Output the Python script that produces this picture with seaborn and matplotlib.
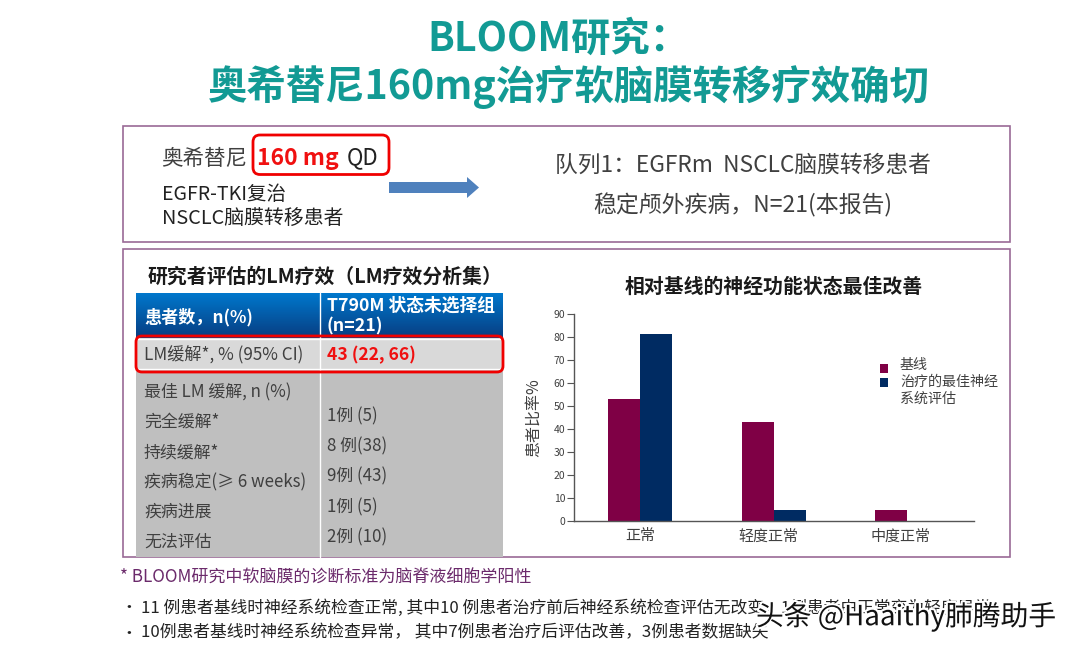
import numpy as np
import pandas as pd
import seaborn as sns
import matplotlib.pyplot as plt
import matplotlib.patheffects as pe
from matplotlib.patches import Rectangle, FancyBboxPatch, Polygon

# dados do grafico
categorias = ['正常', '轻度正常', '中度正常']
baseline = [53, 43, 5]
melhor = [81.5, 5, 0]
series = ['基线', '治疗的最佳神经\n系统评估']
yticks = list(range(0, 100, 10))

# dados da tabela
linhas_tabela = ['最佳 LM 缓解, n (%)', '完全缓解*', '持续缓解*', '疾病稳定(≥ 6 weeks)', '疾病进展', '无法评估']
valores_tabela = ['1例 (5)', '8 例(38)', '9例 (43)', '1例 (5)', '2例 (10)']

sns.set_theme(style='white')
plt.rcParams['font.family'] = ['Noto Sans CJK SC', 'DejaVu Sans']
plt.rcParams['axes.unicode_minus'] = False

W, H = 1080, 650
fig = plt.figure(figsize=(W / 100, H / 100), dpi=100, facecolor='white')

# camada de fundo em pixels
bg = fig.add_axes([0, 0, 1, 1])
bg.set_xlim(0, W)
bg.set_ylim(H, 0)
bg.axis('off')

teal = '#129a94'
roxo = '#9a6a96'
cinza = '#404040'

bg.text(558, 39, 'BLOOM研究：', fontsize=28.4, fontweight='bold', color=teal, ha='center', va='center')
bg.text(569, 87, '奥希替尼160mg治疗软脑膜转移疗效确切', fontsize=28.4, fontweight='bold', color=teal, ha='center', va='center')

# caixas
bg.add_patch(Rectangle((122.5, 126), 887, 116, fill=False, ec=roxo, lw=1.2))
bg.add_patch(Rectangle((122.5, 248.5), 887, 308.5, fill=False, ec=roxo, lw=1.2))

# caixa de cima
bg.text(161, 159, '奥希替尼', fontsize=15.5, color=cinza, va='center')
bg.text(257, 158, '160 mg', fontsize=16.5, fontweight='bold', color='#f01010', va='center')
bg.text(347, 158, 'QD', fontsize=16, color='#222222', va='center')
bg.add_patch(FancyBboxPatch((253, 135), 136, 39.5, boxstyle='round,pad=0,rounding_size=7', fill=False, ec='#f00000', lw=2))
bg.text(162, 195, 'EGFR-TKI复治', fontsize=14, color='#222222', va='center')
bg.text(162, 219, 'NSCLC脑膜转移患者', fontsize=14.3, color='#222222', va='center')
bg.add_patch(Polygon([(389, 182), (467, 182), (467, 177), (479, 187.5), (467, 198), (467, 193), (389, 193)],
                     closed=True, fc='#4f81bd', ec='none'))
bg.text(743, 165, '队列1：EGFRm  NSCLC脑膜转移患者', fontsize=16.4, color=cinza, ha='center', va='center')
bg.text(743, 205, '稳定颅外疾病，N=21(本报告)', fontsize=16.5, color=cinza, ha='center', va='center')

# tabela
bg.text(325, 276, '研究者评估的LM疗效（LM疗效分析集）', fontsize=14.3, fontweight='bold', color='#1a1a1a', ha='center', va='center')
grad = np.linspace(0, 1, 64).reshape(-1, 1)
cores = np.array([0, 120, 205]) * (1 - grad[..., None]) + np.array([8, 62, 130]) * grad[..., None]
bg.imshow(cores.astype(np.uint8), extent=(136, 503, 338, 293), aspect='auto', zorder=1)
bg.set_xlim(0, W)
bg.set_ylim(H, 0)
bg.add_patch(Rectangle((136, 338), 367, 32, fc='#d9d9d9', ec='none', zorder=1))
bg.add_patch(Rectangle((136, 370), 367, 187, fc='#bfbfbf', ec='none', zorder=1))
bg.plot([319.5, 319.5], [293, 557], color='white', lw=1, zorder=2)
bg.plot([136, 503], [338.5, 338.5], color='white', lw=1, zorder=2)
bg.plot([136, 503], [368.5, 368.5], color='white', lw=1, zorder=2)
bg.text(144, 317, '患者数，n(%)', fontsize=12.3, fontweight='bold', color='white', va='center', zorder=3)
bg.text(327, 306, 'T790M 状态未选择组', fontsize=12.8, fontweight='bold', color='white', va='center', zorder=3)
bg.text(327, 326, '(n=21)', fontsize=12.8, fontweight='bold', color='white', va='center', zorder=3)
bg.text(144, 355, 'LM缓解*, % (95% CI)', fontsize=12.3, color=cinza, va='center', zorder=3)
bg.text(327, 355, '43 (22, 66)', fontsize=12.6, fontweight='bold', color='#f01010', va='center', zorder=3)
bg.add_patch(FancyBboxPatch((136, 336), 367, 36, boxstyle='round,pad=0,rounding_size=6', fill=False, ec='#f00000', lw=2, zorder=4))
for i, txt in enumerate(linhas_tabela):
    bg.text(144, 392 + i * 30, txt, fontsize=12.2, color=cinza, va='center', zorder=3)
for i, txt in enumerate(valores_tabela):
    bg.text(327, 416 + i * 30.3, txt, fontsize=12.2, color=cinza, va='center', zorder=3)

# grafico de barras
bg.text(774, 286, '相对基线的神经功能状态最佳改善', fontsize=14.3, fontweight='bold', color='#1a1a1a', ha='center', va='center')

df = pd.DataFrame({
    'categoria': categorias * 2,
    'valor': baseline + melhor,
    'serie': [series[0]] * 3 + [series[1]] * 3,
})
ax = fig.add_axes([573.5 / W, 1 - 521 / H, 400.5 / W, 206.7 / H])
ax.patch.set_alpha(0)
sns.barplot(data=df, x='categoria', y='valor', hue='serie', palette=['#7f0045', '#002b62'],
            width=0.48, gap=0, saturation=1, linewidth=0, ax=ax, legend=False)
ax.set_xlim(-0.5, 2.5)
ax.set_ylim(0, 90)
ax.set_yticks(yticks)
ax.set_xticks([0, 0.96, 1.95], categorias)
ax.set_xlabel('')
ax.set_ylabel('患者比率%', fontsize=11.5, color=cinza, labelpad=8)
ax.tick_params(axis='y', length=5, width=0.8, color='#555555', labelsize=7.5, labelcolor=cinza, pad=1, left=True)
ax.tick_params(axis='x', length=0, labelsize=10.8, labelcolor=cinza, pad=6)
sns.despine(ax=ax)
for lado in ['left', 'bottom']:
    ax.spines[lado].set_color('#555555')
    ax.spines[lado].set_linewidth(1)

# legenda
bg.add_patch(Rectangle((880, 364), 8, 9, fc='#7f0045', ec='none'))
bg.add_patch(Rectangle((880, 378), 8, 9, fc='#002b62', ec='none'))
bg.text(900, 365, series[0], fontsize=10.1, color=cinza, va='center')
bg.text(900, 382, '治疗的最佳神经', fontsize=10.1, color=cinza, va='center')
bg.text(900, 399, '系统评估', fontsize=10.1, color=cinza, va='center')

# notas
bg.text(120, 578, '* BLOOM研究中软脑膜的诊断标准为脑脊液细胞学阳性', fontsize=12.25, color='#6b2a6b', va='center')
bg.text(120, 608, '•', fontsize=12, color='#222222', va='center')
bg.text(141, 608, '11 例患者基线时神经系统检查正常, 其中10 例患者治疗前后神经系统检查评估无改变，1例患者由正常变为轻度异常', fontsize=12.1, color='#222222', va='center')
bg.text(120, 633, '•', fontsize=12, color='#222222', va='center')
bg.text(141, 633, '10例患者基线时神经系统检查异常， 其中7例患者治疗后评估改善，3例患者数据缺失', fontsize=12.1, color='#222222', va='center')

# marca d'agua
bg.text(756, 617, '头条 @Haaithy肺腾助手', fontsize=20, color='#111111', va='center', zorder=6,
        path_effects=[pe.withStroke(linewidth=3, foreground='white')])

fig.savefig('out.png', dpi=100)
